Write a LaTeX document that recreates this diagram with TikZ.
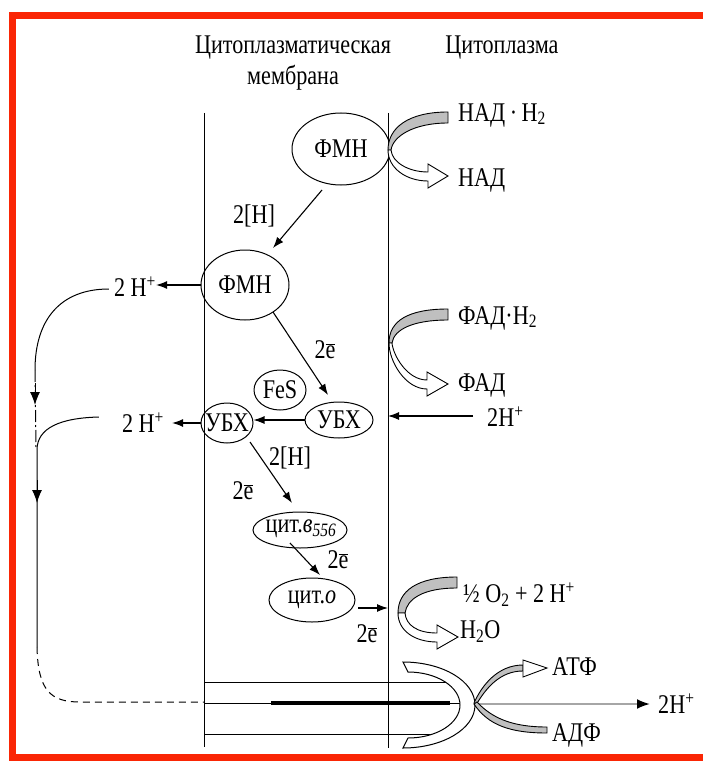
\documentclass[tikz,border=0pt]{standalone}
\usepackage{fontspec}
\setmainfont{Liberation Serif}[FakeStretch=0.82]
\usetikzlibrary{shapes.geometric,arrows.meta,calc}
\definecolor{framered}{RGB}{250,38,5}
\newcommand\dfont{\fontsize{27}{30}\selectfont}
\newcommand\ebar{$\overline{\mbox{e}}$}
% #1 Xr  #2 yt  #3 Xa  #4 ya  #5 wa  #6 Xh  #7 yb  #8 Xt
\newcommand\bandarrow[8]{%
  \filldraw[line width=0.9pt, fill=gray!50]
    (#1,{#2-6}) .. controls ({#1-40},{#2-6}) and (#3,{#4-22}) .. (#3,#4)
    -- ({#3+#5},#4) .. controls ({#3+#5+2},{#4-14}) and ({#1-34},{#2+5}) .. (#1,{#2+5}) -- cycle;
  \filldraw[line width=0.9pt, fill=white]
    (#3,#4) .. controls (#3,{#4+18}) and ({#6-22},{#7+5}) .. (#6,{#7+5})
    -- (#6,{#7+12}) -- (#8,#7) -- (#6,{#7-12}) -- (#6,{#7-4})
    .. controls ({#6-20},{#7-4}) and ({#3+#5+1},{#4+12}) .. ({#3+#5},#4) -- cycle;
}
\begin{document}
\begin{tikzpicture}[x=1pt,y=-1pt,
  txt/.style={inner sep=0pt, font=\dfont},
  oval/.style={ellipse, draw, line width=1pt, inner sep=0pt},
  ln/.style={line width=1pt},
  arr/.style={line width=1.1pt, -{Latex[length=11pt,width=8pt]}},
  vtip/.style={line width=1pt, -{Latex[length=13pt,width=10pt]}}]
\useasboundingbox (0,0) rectangle (703,762);
\fill[white] (0,0) rectangle (703,762);

% headers
\node[txt] (hdr1) at (293,48) {Цитоплазматическая};
\node[txt] (hdr2) at (293,78) {мембрана};
\node[txt] (hdr3) at (502,48) {Цитоплазма};

% membrane
\coordinate (mLt) at (204,113); \coordinate (mLb) at (204,747);
\coordinate (mRt) at (388,113); \coordinate (mRb) at (388,748);
\draw[ln] (mLt) -- (mLb);
\draw[ln] (mRt) -- (mRb);

% ellipses
\node[oval, minimum width=98pt, minimum height=72pt] (fmn1) at (341,149) {};
\node[txt] (fmn1t) at (fmn1) {ФМН};
\node[oval, minimum width=88pt, minimum height=70pt] (fmn2) at (245,285) {};
\node[txt] (fmn2t) at (fmn2) {ФМН};
\node[oval, minimum width=52pt, minimum height=40pt] (ubxL) at (227,423) {};
\node[txt] (ubxLt) at (ubxL) {УБХ};
\node[oval, minimum width=52pt, minimum height=40pt] (fes) at (280,390) {};
\node[txt] (fest) at (fes) {FeS};
\node[oval, minimum width=68pt, minimum height=36pt] (ubxR) at (339,420) {};
\node[txt] (ubxRt) at (ubxR) {УБХ};
\node[oval, minimum width=94pt, minimum height=36pt] (cytb) at (300,530) {};
\node[txt] (cytbt) at (301,529) {цит.\textit{в}\textsubscript{\textit{556}}};
\node[oval, minimum width=86pt, minimum height=44pt] (cyto) at (312,600) {};
\node[txt] (cytot) at (cyto) {цит.\textit{о}};

% left texts
\node[txt] (hp1) at (135,287) {2 H\textsuperscript{+}};
\node[txt] (hp2) at (143,423) {2 H\textsuperscript{+}};

% right texts
\node[txt, anchor=west] (nadh) at (458,115) {НАД\,·\,H\textsubscript{2}};
\node[txt, anchor=west] (nad) at (458,180) {НАД};
\node[txt, anchor=west] (fadh) at (458,318) {ФАД·H\textsubscript{2}};
\node[txt, anchor=west] (fad) at (458,385) {ФАД};
\node[txt, anchor=west] (hp3) at (487,417) {2H\textsuperscript{+}};
\node[txt, anchor=west] (o2) at (463,595) {½ O\textsubscript{2} + 2 H\textsuperscript{+}};
\node[txt, anchor=west] (h2o) at (460,632) {H\textsubscript{2}O};
\node[txt, anchor=west] (atf) at (552,667) {АТФ};
\node[txt, anchor=west] (adf) at (552,735) {АДФ};
\node[txt, anchor=west] (hp4) at (658,704) {2H\textsuperscript{+}};

% labels
\node[txt] (l1) at (254,216) {2[H]};
\node[txt] (l2) at (325,350) {2\ebar};
\node[txt] (l3) at (290,458) {2[H]};
\node[txt] (l4) at (243,491) {2\ebar};
\node[txt] (l5) at (338,560) {2\ebar};
\node[txt] (l6) at (367,634) {2\ebar};

% chain arrows
\draw[arr] ($(fmn1)+(-19,41)$) -- ($(fmn2)+(28,-37)$);
\draw[arr] (fmn2.west) -- (fmn2.west -| hp1.east);
\draw[arr] ($(fmn2)+(28,27)$) -- ($(ubxR)+(-11,-25)$);
\draw[arr] (ubxR.west) -- (ubxR.west -| ubxL.east);
\coordinate (hp2e) at ($(hp2.east)+(8,0)$);
\draw[arr] (ubxL.west) -- (ubxL.west -| hp2e);
\coordinate (hp3s) at ($(hp3.west)+(-14,-1)$);
\draw[arr] (hp3s) -- (hp3s -| mRt);
\draw[arr] ($(ubxL)+(23,19)$) -- ($(cytb)+(-8,-27)$);
\draw[arr] ($(cytb)+(-10,13)$) -- ($(cyto)+(8,-25)$);
\coordinate (c4) at ($(cyto)+(46,8)$);
\draw[arr] (c4) -- (c4 -| mRt);

% redox band arrows
\bandarrow{448}{118}{388}{150}{3}{428}{176}{448}
\bandarrow{448}{315}{389}{343}{3}{427}{384}{448}
\bandarrow{457}{583}{398}{613}{7}{437}{637}{458}

% left proton return path
\draw[ln] ($(hp1.west)+(-5,2)$) .. controls (60,289) and (35,320) .. (35,370);
\draw[ln, dash pattern=on 12pt off 3pt on 2pt off 3pt] (35,370) -- (36,447);
\draw[vtip] (35,383) -- (35,405);
\draw[ln] ($(hp2.west)+(-23,-6)$) .. controls (60,418) and (37,428) .. (37,450) -- (37,647);
\draw[vtip] (37,480) -- (37,503);
\coordinate (hmid) at (204,702);
\draw[ln, dash pattern=on 7pt off 5pt] (37,647) .. controls (38,690) and (50,702) .. (80,702) -- (hmid);

% ATP synthase
\draw[ln] (204,682) -- (460,682);
\draw[ln] (204,703) -- (470,703);
\draw[line width=3.5pt] (271,703) -- (450,703);
\draw[ln] (204,734) -- (452,734);
\filldraw[ln, fill=white] (403,662) arc[start angle=90,end angle=-90,x radius=72pt,y radius=43pt]
  -- (408,738) arc[start angle=-90,end angle=90,x radius=52pt,y radius=33pt] -- cycle;
\coordinate (cx) at (475,704);
\draw[gray!70, line width=2pt, -{Latex[length=13pt,width=10pt,color=black]}] (cx) -- ($(hp4.west)+(-8,0)$);
\filldraw[line width=0.9pt, fill=gray!50] (474,703) .. controls (482,685) and (498,665) .. (523,665)
  -- (523,671) .. controls (500,671) and (486,688) .. (476,705) -- cycle;
\filldraw[line width=0.9pt, fill=white] (523,660) -- (547,668) -- (523,677) -- cycle;
\filldraw[line width=0.9pt, fill=gray!50] (474,704) .. controls (488,725) and (510,733) .. (547,733)
  -- (547,727) .. controls (512,727) and (492,718) .. (477,702) -- cycle;

% frame
\draw[framered, line width=7pt] (703,16) -- (12.5,16) -- (12.5,757) -- (703,757);
\end{tikzpicture}
\end{document}
